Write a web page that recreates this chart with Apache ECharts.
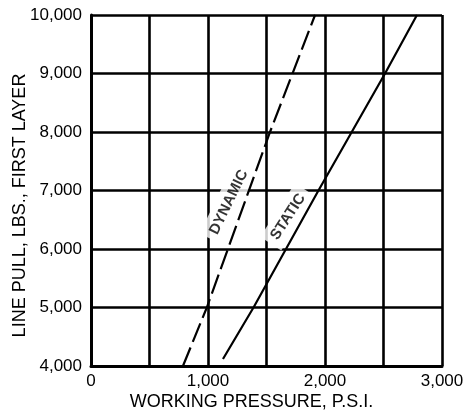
<!DOCTYPE html>
<html lang="en">
<head>
    <meta charset="UTF-8">
    <title>line pull</title>
    <style>html,body{margin:0;padding:0;background:#fff;}</style>
</head>
<body>
<div id="main" style="width: 464px;height:413px;"></div>
</body>
<script src="https://cdn.jsdelivr.net/npm/echarts@6/dist/echarts.min.js"></script>
<script>

// readings (psi, lbs)
let dynamicLine = [[786, 4000], [990, 5000], [1530, 8000], [1915, 10000]]
let staticLine = [[1128, 4120], [1389, 5000], [1944, 7000], [2513, 9000], [2786, 10000]]
let xTickLabels = [0, 1000, 2000, 3000]
let yTickLabels = [4000, 5000, 6000, 7000, 8000, 9000, 10000]
let curveLabels = [
    {name: 'DYNAMIC', value: [1178, 6800], angle: 64},
    {name: 'STATIC', value: [1685, 6550], angle: 57}
]

const fmt = v => v.toLocaleString('en-US')
const FONT = 'Liberation Sans, Arial, sans-serif'
const INK = '#000'

let myChart = echarts.init(document.getElementById('main'))

let option = {
    animation: false,
    backgroundColor: '#fff',
    grid: {left: 91, top: 15, width: 351, height: 351, outerBoundsMode: 'none', containLabel: false},
    xAxis: {
        type: 'value', min: 0, max: 3000, interval: 500,
        name: 'WORKING PRESSURE, P.S.I.',
        nameLocation: 'middle', nameGap: 27, nameMoveOverlap: false,
        nameTextStyle: {color: INK, fontSize: 18, fontFamily: FONT, padding: [0, 30, 0, 0]},
        axisLine: {lineStyle: {color: '#000', width: 3}},
        axisTick: {show: false},
        axisLabel: {
            color: INK, fontSize: 17, fontFamily: FONT, margin: 7,
            formatter: v => xTickLabels.indexOf(v) >= 0 ? fmt(v) : ''
        },
        splitLine: {show: true, lineStyle: {color: '#000', width: 2.6}}
    },
    yAxis: {
        type: 'value', min: 4000, max: 10000, interval: 1000,
        name: 'LINE PULL, LBS., FIRST LAYER',
        nameLocation: 'middle', nameGap: 62, nameMoveOverlap: false,
        nameTextStyle: {color: INK, fontSize: 18, fontFamily: FONT, padding: [0, 30, 0, 0]},
        axisLine: {show: true, lineStyle: {color: '#000', width: 3}},
        axisTick: {show: false},
        axisLabel: {
            color: INK, fontSize: 17, fontFamily: FONT, margin: 9,
            formatter: v => yTickLabels.indexOf(v) >= 0 ? fmt(v) : ''
        },
        splitLine: {show: true, lineStyle: {color: '#000', width: 2.6}}
    },
    series: [
        {
            type: 'scatter', symbolSize: 0, z: 1,
            data: curveLabels.map(it => ({
                value: it.value,
                label: {
                    show: true, position: 'inside', formatter: it.name, rotate: it.angle,
                    color: INK, fontSize: 15, fontWeight: 'bold', fontFamily: FONT,
                    backgroundColor: '#fff', padding: [5, 6]
                }
            }))
        },
        {
            type: 'line', data: dynamicLine, symbol: 'none', z: 3,
            lineStyle: {color: '#000', width: 2.2, type: [20, 6]}
        },
        {
            type: 'line', data: staticLine, symbol: 'none', z: 3,
            lineStyle: {color: '#000', width: 2.2}
        }
    ]
}
myChart.setOption(option)

</script>
</html>
